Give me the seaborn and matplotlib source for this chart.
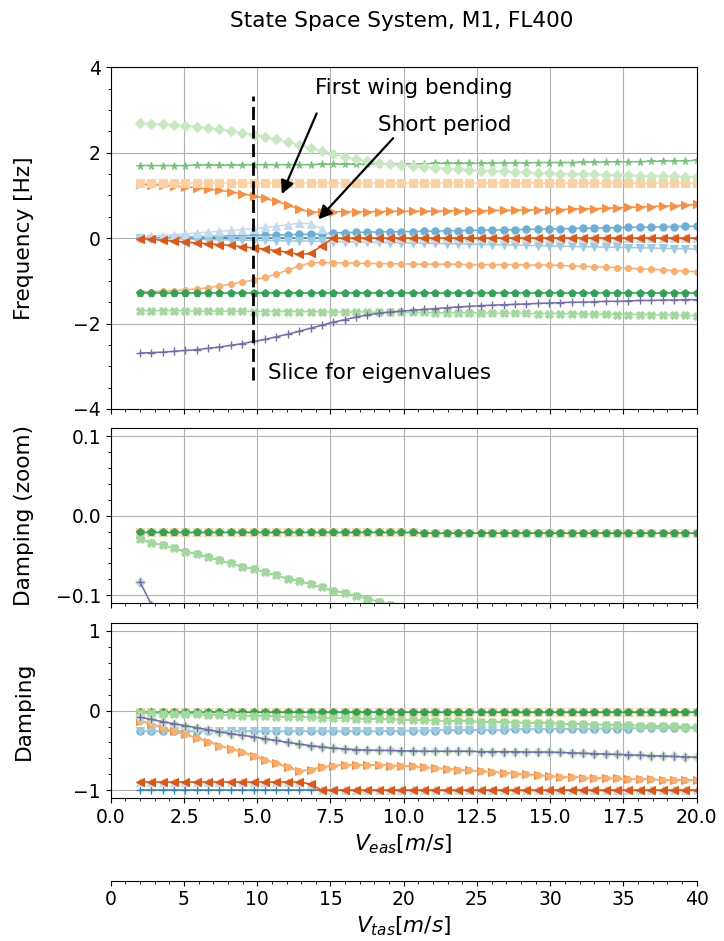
import numpy as np
import matplotlib
matplotlib.use("Agg")
import matplotlib.pyplot as plt
import seaborn as sns
from matplotlib.ticker import AutoMinorLocator

plt.rcParams['font.family'] = ['DejaVu Sans']
plt.rcParams['font.size'] = 13
plt.rcParams['xtick.labelsize'] = 13.5
plt.rcParams['ytick.labelsize'] = 13.5
plt.rcParams['axes.labelsize'] = 15.6

# ---------------- data ----------------
v_eas = [1.00, 1.39, 1.78, 2.16, 2.55, 2.94, 3.33, 3.71, 4.10, 4.49,
         4.88, 5.27, 5.65, 6.04, 6.43, 6.82, 7.20, 7.59, 7.98, 8.37,
         8.76, 9.14, 9.53, 9.92, 10.31, 10.69, 11.08, 11.47, 11.86, 12.24,
         12.63, 13.02, 13.41, 13.80, 14.18, 14.57, 14.96, 15.35, 15.73, 16.12,
         16.51, 16.90, 17.29, 17.67, 18.06, 18.45, 18.84, 19.22, 19.61, 20.00]

freq_s0 = [0.0] * 50
freq_s1 = [0.00, 0.005, 0.01, 0.02, 0.025, 0.03, 0.04, 0.045, 0.05, 0.06,
           0.065, 0.07, 0.075, 0.08, 0.085, 0.09, 0.10, 0.12, 0.13, 0.135,
           0.14, 0.145, 0.15, 0.15, 0.155, 0.16, 0.165, 0.17, 0.175, 0.18,
           0.185, 0.19, 0.195, 0.20, 0.205, 0.21, 0.215, 0.22, 0.225, 0.23,
           0.235, 0.24, 0.245, 0.25, 0.255, 0.26, 0.265, 0.27, 0.275, 0.28]
freq_s2 = [-0.005, -0.01, -0.015, -0.02, -0.025, -0.03, -0.035, -0.04, -0.045, -0.05,
           -0.05, -0.055, -0.06, -0.065, -0.07, -0.07, -0.075, -0.08, -0.085, -0.09,
           -0.095, -0.10, -0.105, -0.11, -0.115, -0.12, -0.125, -0.13, -0.135, -0.14,
           -0.145, -0.15, -0.155, -0.16, -0.17, -0.175, -0.18, -0.19, -0.195, -0.20,
           -0.205, -0.21, -0.215, -0.22, -0.225, -0.23, -0.24, -0.245, -0.25, -0.26]
freq_s3 = [0.02, 0.04, 0.06, 0.08, 0.10, 0.12, 0.14, 0.16, 0.18, 0.20,
           0.22, 0.25, 0.28, 0.31, 0.35, 0.34, 0.22] + [0.0] * 33
freq_s4 = [-0.01, -0.03, -0.05, -0.07, -0.09, -0.11, -0.13, -0.15, -0.17, -0.20,
           -0.23, -0.26, -0.29, -0.33, -0.38, -0.36, -0.18] + [0.0] * 33
freq_s5 = [1.26, 1.25, 1.24, 1.22, 1.20, 1.18, 1.15, 1.12, 1.08, 1.04,
           0.99, 0.93, 0.86, 0.78, 0.68, 0.61, 0.61, 0.62, 0.62, 0.62,
           0.62, 0.62, 0.63, 0.63, 0.63, 0.63, 0.63, 0.64, 0.64, 0.64,
           0.64, 0.65, 0.65, 0.65, 0.66, 0.66, 0.67, 0.67, 0.68, 0.69,
           0.69, 0.70, 0.71, 0.72, 0.73, 0.74, 0.75, 0.76, 0.77, 0.79]
freq_s6 = [-1.25, -1.25, -1.24, -1.23, -1.21, -1.19, -1.16, -1.12, -1.08, -1.03,
           -0.98, -0.92, -0.84, -0.75, -0.65, -0.58, -0.57, -0.58, -0.58, -0.59,
           -0.59, -0.60, -0.60, -0.60, -0.61, -0.61, -0.61, -0.61, -0.61, -0.62,
           -0.62, -0.62, -0.62, -0.62, -0.63, -0.63, -0.63, -0.64, -0.65, -0.66,
           -0.67, -0.68, -0.69, -0.70, -0.72, -0.73, -0.74, -0.76, -0.77, -0.79]
freq_s7 = [1.29] * 50
freq_s8 = [-1.28] * 50
freq_s9 = [1.70, 1.70, 1.70, 1.70, 1.70, 1.71, 1.71, 1.71, 1.71, 1.71,
           1.72, 1.72, 1.72, 1.72, 1.72, 1.72, 1.73, 1.73, 1.73, 1.73,
           1.73, 1.74, 1.74, 1.74, 1.74, 1.74, 1.75, 1.75, 1.75, 1.75,
           1.75, 1.76, 1.76, 1.76, 1.76, 1.77, 1.77, 1.77, 1.77, 1.78,
           1.78, 1.78, 1.79, 1.79, 1.79, 1.80, 1.80, 1.81, 1.81, 1.82]
freq_s10 = [-1.70, -1.70, -1.70, -1.70, -1.70, -1.71, -1.71, -1.71, -1.71, -1.71,
            -1.72, -1.72, -1.72, -1.72, -1.72, -1.72, -1.73, -1.73, -1.73, -1.73,
            -1.73, -1.74, -1.74, -1.74, -1.74, -1.74, -1.75, -1.75, -1.75, -1.75,
            -1.75, -1.76, -1.76, -1.76, -1.76, -1.77, -1.77, -1.77, -1.77, -1.78,
            -1.78, -1.78, -1.79, -1.79, -1.79, -1.80, -1.80, -1.81, -1.81, -1.82]
freq_s11 = [2.69, 2.68, 2.67, 2.65, 2.63, 2.61, 2.58, 2.55, 2.51, 2.47,
            2.42, 2.37, 2.31, 2.25, 2.18, 2.11, 2.04, 1.97, 1.91, 1.85,
            1.80, 1.76, 1.73, 1.71, 1.69, 1.67, 1.65, 1.63, 1.61, 1.60,
            1.58, 1.57, 1.56, 1.55, 1.54, 1.53, 1.52, 1.51, 1.50, 1.50,
            1.49, 1.48, 1.48, 1.47, 1.46, 1.46, 1.45, 1.45, 1.44, 1.44]
freq_s12 = [-2.69, -2.68, -2.67, -2.65, -2.63, -2.61, -2.58, -2.55, -2.51, -2.47,
            -2.42, -2.37, -2.31, -2.25, -2.18, -2.11, -2.04, -1.97, -1.91, -1.85,
            -1.80, -1.76, -1.73, -1.71, -1.69, -1.67, -1.65, -1.63, -1.61, -1.60,
            -1.58, -1.57, -1.56, -1.55, -1.54, -1.53, -1.52, -1.51, -1.50, -1.50,
            -1.49, -1.48, -1.48, -1.47, -1.46, -1.46, -1.45, -1.45, -1.44, -1.44]

damp_s0 = [-1.0] * 50
damp_s1 = [-0.26] * 22 + [-0.255, -0.255, -0.25, -0.25, -0.25, -0.245, -0.245, -0.245,
                          -0.24, -0.24, -0.24, -0.235, -0.235, -0.235, -0.23, -0.23,
                          -0.23, -0.23, -0.225, -0.225, -0.225, -0.225, -0.22, -0.22,
                          -0.22, -0.22, -0.22, -0.22]
damp_s2 = list(damp_s1)
damp_s3 = [-0.895] * 15 + [-0.92] + [-1.0] * 34
damp_s4 = [-0.895] * 15 + [-0.92] + [-1.0] * 34
damp_s5 = [-0.13, -0.17, -0.22, -0.26, -0.30, -0.345, -0.39, -0.44, -0.48, -0.52,
           -0.57, -0.62, -0.66, -0.71, -0.76, -0.74, -0.71, -0.69, -0.68, -0.68,
           -0.68, -0.68, -0.69, -0.69, -0.70, -0.71, -0.72, -0.73, -0.74, -0.75,
           -0.76, -0.77, -0.78, -0.79, -0.80, -0.81, -0.82, -0.83, -0.83, -0.84,
           -0.84, -0.85, -0.85, -0.86, -0.86, -0.86, -0.87, -0.87, -0.87, -0.87]
damp_s6 = list(damp_s5)
damp_s7 = [-0.021] * 25 + [-0.022] * 25
damp_s8 = [-0.021] * 25 + [-0.022] * 25
damp_s9 = [-0.029, -0.034, -0.037, -0.041, -0.045, -0.048, -0.052, -0.056, -0.060, -0.064,
           -0.067, -0.071, -0.075, -0.079, -0.082, -0.086, -0.090, -0.094, -0.097, -0.101,
           -0.104, -0.108, -0.112, -0.115, -0.119, -0.122, -0.126, -0.129, -0.133, -0.136,
           -0.140, -0.143, -0.147, -0.150, -0.154, -0.157, -0.161, -0.164, -0.168, -0.171,
           -0.175, -0.178, -0.182, -0.185, -0.189, -0.192, -0.196, -0.199, -0.203, -0.206]
damp_s10 = list(damp_s9)
damp_s11 = [-0.083, -0.112, -0.14, -0.165, -0.19, -0.215, -0.24, -0.265, -0.29, -0.31,
            -0.33, -0.355, -0.375, -0.40, -0.42, -0.44, -0.455, -0.47, -0.48, -0.49,
            -0.495, -0.50, -0.50, -0.505, -0.505, -0.51, -0.51, -0.51, -0.51, -0.51,
            -0.515, -0.515, -0.515, -0.515, -0.52, -0.52, -0.52, -0.525, -0.53, -0.535,
            -0.54, -0.545, -0.55, -0.555, -0.56, -0.565, -0.57, -0.575, -0.58, -0.585]
damp_s12 = list(damp_s11)

freqs = [freq_s0, freq_s1, freq_s2, freq_s3, freq_s4, freq_s5, freq_s6,
         freq_s7, freq_s8, freq_s9, freq_s10, freq_s11, freq_s12]
damps = [damp_s0, damp_s1, damp_s2, damp_s3, damp_s4, damp_s5, damp_s6,
         damp_s7, damp_s8, damp_s9, damp_s10, damp_s11, damp_s12]

markers = ['+', 'o', 'v', '^', '<', '>', '8', 's', 'p', '*', 'X', 'D', '+']
colors = sns.color_palette('tab20c', 13)

title = "State Space System, M1, FL400"
slice_v = 4.87

# ---------------- figure ----------------
fig = plt.figure(figsize=(7.24, 9.41), dpi=100)
L, W = 0.1529, 0.8094
ax1 = fig.add_axes([L, 0.5654, W, 0.3631])
ax2 = fig.add_axes([L, 0.3589, W, 0.1860])
ax3 = fig.add_axes([L, 0.1516, W, 0.1866])


def draw(ax, series):
    for i, ys in enumerate(series):
        m = markers[i]
        line_art = m in ('+', 'x')
        sns.lineplot(x=v_eas, y=ys, ax=ax, color=colors[i], marker=m,
                     markersize=6 if line_art else 5.3,
                     markeredgecolor=colors[i],
                     markeredgewidth=1.0 if line_art else 0.75,
                     lw=1.1, errorbar=None, legend=False)


draw(ax1, freqs)
draw(ax2, damps)
draw(ax3, damps)

for ax in (ax1, ax2, ax3):
    ax.set_xlim(0, 20)
    ax.grid(True, which='major', color='#b0b0b0', lw=0.8)
    ax.xaxis.set_minor_locator(AutoMinorLocator())
    ax.yaxis.set_minor_locator(AutoMinorLocator())
    ax.set_xlabel('')

ax1.set_ylim(-4, 4)
ax1.set_yticks([-4, -2, 0, 2, 4])
ax2.set_ylim(-0.11, 0.11)
ax2.set_yticks([-0.1, 0.0, 0.1])
ax3.set_ylim(-1.1, 1.1)
ax3.set_yticks([-1, 0, 1])
ax1.tick_params(labelbottom=False)
ax2.tick_params(labelbottom=False)

ax1.set_ylabel('Frequency [Hz]')
ax2.set_ylabel('Damping (zoom)')
ax3.set_ylabel('Damping')
for ax in (ax1, ax2, ax3):
    ax.yaxis.set_label_coords(-0.131, 0.5)

ax3.set_xlabel(r'$V_{eas} [m/s]$')

secax = ax3.secondary_xaxis(-0.468, functions=(lambda x: 2 * x, lambda x: x / 2))
secax.set_xticks([0, 5, 10, 15, 20, 25, 30, 35, 40])
secax.xaxis.set_minor_locator(AutoMinorLocator())
secax.set_xlabel(r'$V_{tas} [m/s]$')

# slice line and annotations
ax1.vlines(slice_v, -3.33, 3.32, colors='k', linestyles=(0, (4.7, 2.0)), lw=2, zorder=5)
ax1.text(5.37, -3.16, 'Slice for eigenvalues', fontsize=15.5, va='center', ha='left')
ax1.text(6.97, 3.51, 'First wing bending', fontsize=15.5, va='center', ha='left')
ax1.text(9.12, 2.65, 'Short period', fontsize=15.5, va='center', ha='left')
arrow = dict(arrowstyle='-|>', color='k', lw=1.6, mutation_scale=20, shrinkA=0, shrinkB=0)
ax1.annotate('', xy=(5.84, 1.03), xytext=(7.03, 2.92), arrowprops=arrow, zorder=6)
ax1.annotate('', xy=(7.09, 0.44), xytext=(9.64, 2.34), arrowprops=arrow, zorder=6)

fig.text(0.5546, 1 - 21 / 941, title, fontsize=15.6, ha='center', va='center')

fig.savefig('out.png', dpi=100)
